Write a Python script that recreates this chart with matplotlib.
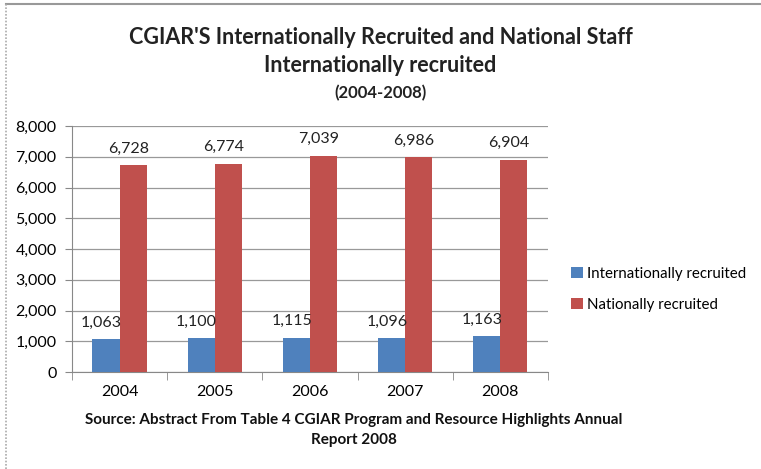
import matplotlib.pyplot as plt
import numpy as np
from matplotlib.lines import Line2D

years = ["2004", "2005", "2006", "2007", "2008"]
international = [1063, 1100, 1115, 1096, 1163]
national = [6728, 6774, 7039, 6986, 6904]
series_names = ["Internationally recruited", "Nationally recruited"]
colors = ["#4F81BD", "#C0504D"]

plt.rcParams['font.family'] = ['Lato', 'DejaVu Sans']

fig = plt.figure(figsize=(7.61, 4.69), dpi=100)
ax = fig.add_axes([0.0946, 0.2068, 0.6254, 0.5245])

x = np.arange(len(years))
w = 0.285
b1 = ax.bar(x - w / 2, international, w, color=colors[0], label=series_names[0], zorder=3)
b2 = ax.bar(x + w / 2, national, w, color=colors[1], label=series_names[1], zorder=3)

for bars in (b1, b2):
    for r in bars:
        ax.annotate(f"{int(r.get_height()):,}", (r.get_x() + r.get_width() / 2 - 0.05, r.get_height()),
                    xytext=(0, 7), textcoords="offset points", ha="center", va="bottom",
                    fontsize=11.5, color="#222222")

ax.set_xlim(-0.5, len(years) - 0.5)
ax.set_ylim(0, 8000)
ax.set_yticks(range(0, 8001, 1000))
ax.set_yticklabels([f"{v:,}" for v in range(0, 8001, 1000)], fontsize=11.5)
ax.set_xticks(x)
ax.set_xticklabels(years, fontsize=11.5)
ax.set_xticks(np.arange(-0.5, len(years)), minor=True)
ax.tick_params(axis="x", which="major", length=0, pad=9)
ax.tick_params(axis="x", which="minor", length=6, color="#888888")
ax.tick_params(axis="y", length=5, color="#888888", pad=6)
ax.yaxis.grid(True, color="#999999", linewidth=0.9, zorder=0)
for s in ["top", "right"]:
    ax.spines[s].set_visible(False)
for s in ["left", "bottom"]:
    ax.spines[s].set_color("#888888")

leg = fig.legend(handles=[b1, b2], loc="upper left", bbox_to_anchor=(0.733, 0.46),
                 frameon=False, fontsize=10.8, handlelength=0.75, handleheight=0.75,
                 handletextpad=0.3, labelspacing=1.15)

fig.text(0.5, 0.921, "CGIAR'S Internationally Recruited and National Staff", ha="center", va="center",
         fontsize=15.5, fontweight="bold", color="#222222")
fig.text(0.5, 0.861, "Internationally recruited", ha="center", va="center",
         fontsize=15.5, fontweight="bold", color="#222222")
fig.text(0.5, 0.801, "(2004-2008)", ha="center", va="center",
         fontsize=12, fontweight="bold", color="#222222")
fig.text(0.465, 0.104, "Source: Abstract From Table 4 CGIAR Program and Resource Highlights Annual",
         ha="center", va="center", fontsize=11, fontweight="bold", color="#111111")
fig.text(0.465, 0.061, "Report 2008", ha="center", va="center",
         fontsize=11, fontweight="bold", color="#111111")

# outer frame
fig.add_artist(Line2D([0.008, 1.0], [0.991, 0.991], color="#999999", lw=1.5, transform=fig.transFigure))
fig.add_artist(Line2D([0.008, 0.008], [0.0, 0.991], color="#aaaaaa", lw=1.2, ls=(0, (1, 1)),
                      transform=fig.transFigure))

fig.savefig("out.png", dpi=100)
